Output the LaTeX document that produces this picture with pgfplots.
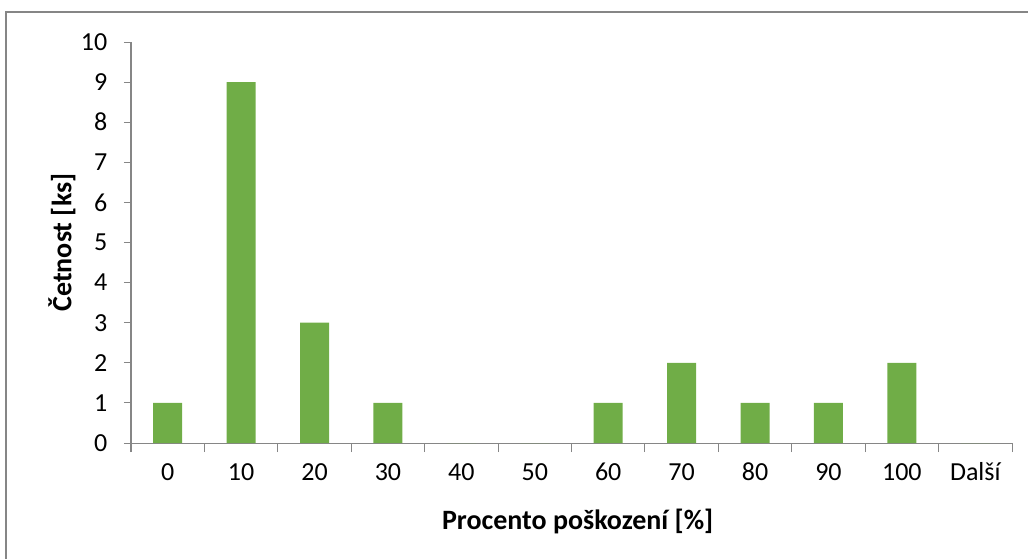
\documentclass[border=0pt]{standalone}
\usepackage{pgfplots}
\pgfplotsset{compat=1.18}
\usepackage{fontspec}
\setmainfont{Carlito}
\definecolor{barc}{HTML}{70AD47}
\definecolor{axc}{HTML}{868686}
\begin{document}
\begin{tikzpicture}[x=1pt,y=1pt]
\useasboundingbox (0,0) rectangle (771,418.5);
\draw[axc, line width=1pt] (4.5,-5) -- (4.5,409.5) -- (780,409.5);
\begin{axis}[
  at={(98.25pt,86.25pt)}, anchor=south west,
  scale only axis, width=660.75pt, height=300.75pt,
  xmin=-0.5, xmax=11.5, ymin=0, ymax=10,
  axis x line=bottom, axis y line=left,
  axis line style={-, axc, line width=0.75pt},
  xtick={0,...,11},
  xticklabels={0,10,20,30,40,50,60,70,80,90,100,Další},
  minor xtick={-0.5,0.5,...,11.5},
  ytick={0,...,10},
  tick align=outside,
  major x tick style={draw=none},
  minor x tick style={axc, line width=0.75pt},
  minor tick length=6.75pt,
  y tick style={axc, line width=0.75pt},
  major tick length=5.25pt,
  /pgf/number format/assume math mode=true,
  tick label style={font=\fontsize{19.5}{23}\selectfont, black},
  xticklabel style={yshift=-7pt, text height=12.5pt, text depth=0pt},
  yticklabel style={xshift=-9pt},
  ylabel={Četnost [ks]},
  xlabel={Procento poškození [\%]},
  label style={font=\fontsize{21}{25}\selectfont\bfseries},
  xlabel style={at={(axis description cs:0.507,-0.1945)}, anchor=center},
  ylabel style={at={(axis description cs:-0.0783,0.5)}, anchor=center},
]
\addplot[ybar, bar width=21.75pt, fill=barc, draw=none] coordinates {
(0,1) (1,9) (2,3) (3,1) (4,0) (5,0) (6,1) (7,2) (8,1) (9,1) (10,2) (11,0)
};
\end{axis}
\end{tikzpicture}
\end{document}
